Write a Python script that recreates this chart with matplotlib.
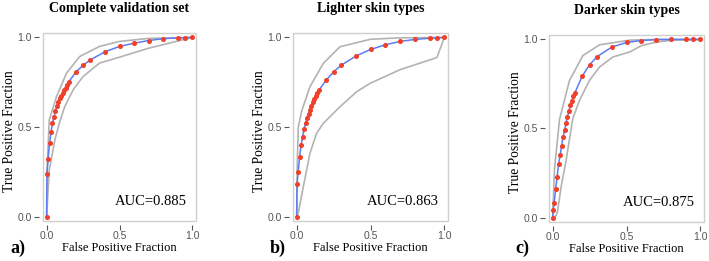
import matplotlib
matplotlib.use("Agg")
import matplotlib.pyplot as plt
from matplotlib.patches import Rectangle

# false positive fractions of the plotted operating points (same for all panels)
fpr = [0, 0.0025, 0.01, 0.02, 0.03, 0.04, 0.05, 0.06, 0.07, 0.08, 0.09, 0.10, 0.11, 0.12,
       0.13, 0.14, 0.15, 0.2, 0.25, 0.3, 0.4, 0.5, 0.6, 0.7, 0.8, 0.9, 0.95, 1.0]

# a) complete validation set
tpr_all = [0, 0.24, 0.32, 0.41, 0.47, 0.52, 0.555, 0.59, 0.615, 0.64, 0.66, 0.675, 0.69, 0.705,
           0.72, 0.735, 0.75, 0.806, 0.845, 0.875, 0.92, 0.95, 0.968, 0.983, 0.993, 0.998, 0.999, 1.0]
upper_all_x = [0, 0.002, 0.018, 0.068, 0.136, 0.227, 0.363, 0.5, 0.7, 1.0]
upper_all_y = [0, 0.25, 0.54, 0.67, 0.80, 0.894, 0.95, 0.978, 0.995, 1.0]
lower_all_x = [0, 0.018, 0.057, 0.09, 0.125, 0.182, 0.25, 0.363, 0.5, 0.6, 0.7, 0.8, 0.9, 1.0]
lower_all_y = [0, 0.26, 0.43, 0.53, 0.615, 0.708, 0.782, 0.857, 0.89, 0.915, 0.94, 0.96, 0.98, 1.0]

# b) lighter skin types
tpr_light = [0, 0.18, 0.25, 0.335, 0.40, 0.446, 0.49, 0.52, 0.55, 0.574, 0.597, 0.617, 0.638, 0.655,
             0.672, 0.688, 0.705, 0.762, 0.808, 0.844, 0.896, 0.933, 0.959, 0.978, 0.989, 0.996, 0.998, 1.0]
upper_light_x = [0, 0.004, 0.011, 0.034, 0.09, 0.18, 0.293, 0.5, 0.7, 1.0]
upper_light_y = [0, 0.3, 0.5, 0.59, 0.725, 0.855, 0.948, 0.99, 0.998, 1.0]
lower_light_x = [0, 0.011, 0.045, 0.09, 0.135, 0.18, 0.293, 0.406, 0.5, 0.7, 0.95, 1.0]
lower_light_y = [0, 0.02, 0.167, 0.354, 0.465, 0.52, 0.613, 0.697, 0.745, 0.82, 0.888, 1.0]

# c) darker skin types
tpr_dark = [0, 0.04, 0.08, 0.16, 0.23, 0.30, 0.35, 0.40, 0.45, 0.49, 0.53, 0.565, 0.60, 0.63,
            0.655, 0.68, 0.70, 0.794, 0.858, 0.903, 0.957, 0.983, 0.994, 0.999, 1.0, 1.0, 1.0, 1.0]
upper_dark_x = [0, 0.012, 0.046, 0.114, 0.205, 0.318, 0.52, 0.7, 1.0]
upper_dark_y = [0, 0.27, 0.55, 0.77, 0.91, 0.97, 0.996, 1.0, 1.0]
lower_dark_x = [0, 0.023, 0.034, 0.057, 0.091, 0.136, 0.182, 0.25, 0.318, 0.409, 0.523, 0.6, 0.7, 0.8, 1.0]
lower_dark_y = [0, 0.01, 0.04, 0.172, 0.322, 0.555, 0.659, 0.771, 0.846, 0.902, 0.93, 0.965, 0.985, 0.995, 1.0]

titles = ["Complete validation set", "Lighter skin types", "Darker skin types"]
auc_labels = ["AUC=0.885", "AUC=0.863", "AUC=0.875"]
panel_tags = ["a)", "b)", "c)"]
ticks = [0.0, 0.5, 1.0]
tick_labels = ["0.0", "0.5", "1.0"]

SERIF = "Liberation Serif"
TICKFONT = ["Liberation Sans Narrow", "Liberation Sans"]
W, H = 709, 261


def px_box(left, top, width, height):
    # pixel box (top-left origin) -> figure fraction
    return [left / W, (H - top - height) / H, width / W, height / H]


def draw_panel(fig, box, tpr, upper, lower, title, auc, tag, tag_x):
    ax = fig.add_axes(px_box(*box))
    ax.plot(upper[0], upper[1], c="#b3b3b3", lw=1.2, zorder=2)
    ax.plot(lower[0], lower[1], c="#b3b3b3", lw=1.2, zorder=2)
    ax.plot(fpr, tpr, c="#5b7cf5", lw=1.1, zorder=3)
    ax.plot(fpr, tpr, ls="none", marker="o", ms=2.6, mfc="#f0402a", mec="#f0402a", zorder=4)

    ax.set_xlim(-0.025, 1.025)
    ax.set_ylim(-0.025, 1.025)

    # box drawn as a patch, axis lines pushed out so the ticks float off the frame
    ax.add_patch(Rectangle((0, 0), 1, 1, transform=ax.transAxes, fill=False,
                           ec="#cfcfcf", lw=1.0, clip_on=False, zorder=5))
    for side in ["top", "right"]:
        ax.spines[side].set_visible(False)
    for side in ["left", "bottom"]:
        ax.spines[side].set_position(("outward", 3))
        ax.spines[side].set_visible(False)

    ax.set_xticks(ticks)
    ax.set_yticks(ticks)
    ax.set_xticklabels(tick_labels, family=TICKFONT, fontsize=7.5, color="#555555")
    ax.set_yticklabels(tick_labels, family=TICKFONT, fontsize=7.5, color="#555555")
    ax.tick_params(length=3.5, width=0.8, color="#555555", pad=1.5)
    ax.tick_params(axis="x", pad=1.0)

    ax.set_title(title, family=SERIF, fontweight="bold", fontsize=10, pad=15)
    ax.set_xlabel("False Positive Fraction", family=SERIF, fontsize=9)
    ax.set_ylabel("True Positive Fraction", family=SERIF, fontsize=9.8)
    ax.xaxis.set_label_coords(0.5, -0.11)
    ax.yaxis.set_label_coords(-0.175, 0.48)

    ax.text(0.96, 0.065, auc, family=SERIF, fontsize=10.5, ha="right", va="baseline")
    fig.text(tag_x / W, 1 - 253 / H, tag, family=SERIF, fontweight="bold", fontsize=13,
             ha="left", va="baseline")
    return ax


if __name__ == '__main__':
    fig = plt.figure(figsize=(W / 100, H / 100), dpi=100)

    draw_panel(fig, (43, 33, 153, 188), tpr_all, (upper_all_x, upper_all_y),
               (lower_all_x, lower_all_y), titles[0], auc_labels[0], panel_tags[0], 10)
    draw_panel(fig, (293, 33, 155, 188), tpr_light, (upper_light_x, upper_light_y),
               (lower_light_x, lower_light_y), titles[1], auc_labels[1], panel_tags[1], 270)
    draw_panel(fig, (549, 35, 155, 187), tpr_dark, (upper_dark_x, upper_dark_y),
               (lower_dark_x, lower_dark_y), titles[2], auc_labels[2], panel_tags[2], 515)

    fig.savefig("out.png", dpi=100)
    plt.close(fig)
